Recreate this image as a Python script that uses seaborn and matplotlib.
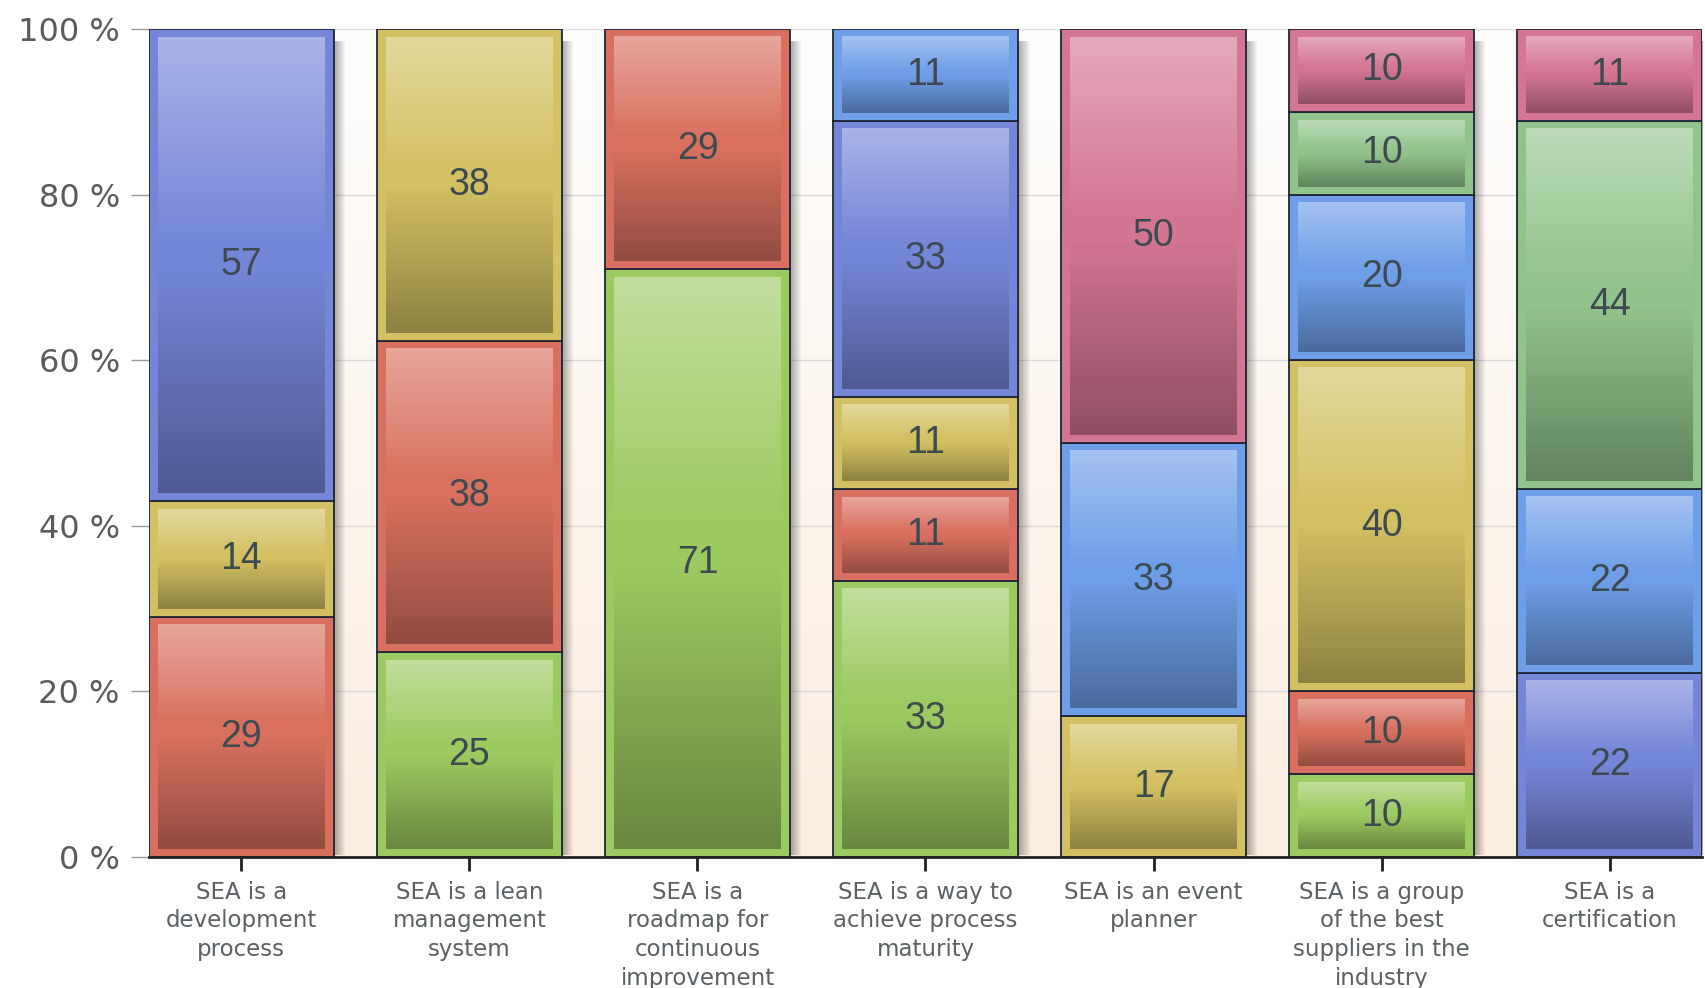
import numpy as np
import pandas as pd
import matplotlib
matplotlib.use("Agg")
import matplotlib.pyplot as plt
import seaborn as sns
from matplotlib.colors import to_rgb

# ---------------- data ----------------
categories = [
    "SEA is a development process",
    "SEA is a lean management system",
    "SEA is a roadmap for continuous improvement",
    "SEA is a way to achieve process maturity",
    "SEA is an event planner",
    "SEA is a group of the best suppliers in the industry",
    "SEA is a certification",
]
tick_labels = [
    "SEA is a\ndevelopment\nprocess",
    "SEA is a lean\nmanagement\nsystem",
    "SEA is a\nroadmap for\ncontinuous\nimprovement",
    "SEA is a way to\nachieve process\nmaturity",
    "SEA is an event\nplanner",
    "SEA is a group\nof the best\nsuppliers in the\nindustry",
    "SEA is a\ncertification",
]
# stacked from bottom to top
series_names = ["Lime", "Red", "Yellow", "Periwinkle", "Light blue", "Sage", "Pink"]
lime       = [0, 25, 71, 33, 0, 10, 0]
red        = [29, 38, 29, 11, 0, 10, 0]
yellow     = [14, 38, 0, 11, 17, 40, 0]
periwinkle = [57, 0, 0, 33, 0, 0, 22]
lightblue  = [0, 0, 0, 11, 33, 20, 22]
sage       = [0, 0, 0, 0, 0, 10, 44]
pink       = [0, 0, 0, 0, 50, 10, 11]
series_values = [lime, red, yellow, periwinkle, lightblue, sage, pink]
series_colors = ["#9bca60", "#d9705f", "#d3c062", "#7486d8", "#6f9ee8", "#91c48b", "#d47594"]
y_ticks = [0, 20, 40, 60, 80, 100]

# ---------------- build table ----------------
rows = []
for ci, cat in enumerate(categories):
    total = sum(s[ci] for s in series_values)
    base = 0.0
    for name, vals in zip(series_names, series_values):
        v = vals[ci]
        if v > 0:
            pct = v * 100.0 / total
            rows.append(dict(category=cat, cidx=ci, series=name, value=v, pct=pct, base=base))
            base += pct
df = pd.DataFrame(rows)

# ---------------- figure ----------------
sns.set_theme(style="white")
plt.rcParams["font.family"] = ["DejaVu Sans"]

W, H = 1705, 988
fig = plt.figure(figsize=(W / 100, H / 100), dpi=100)
ax_l, ax_b, ax_w, ax_h = 149, 131, 1553, 828
ax = fig.add_axes([ax_l / W, ax_b / H, ax_w / W, ax_h / H])

bar_w = 0.81
xlim = (-bar_w / 2, len(categories) - 1 + bar_w / 2)

# background gradient (white at top -> cream at bottom)
n = 256
top_c = np.array(to_rgb("#ffffff"))
bot_c = np.array(to_rgb("#fbeddf"))
t = np.linspace(0, 1, n)[:, None]
bg = (top_c * (1 - t) + bot_c * t)[:, None, :]
ax.imshow(bg, extent=(0, 1, 0, 1), transform=ax.transAxes, aspect="auto",
          origin="upper", zorder=-2, interpolation="bilinear")

# bars
for name, color in zip(series_names, series_colors):
    sub = df[df.series == name].sort_values("cidx")
    if sub.empty:
        continue
    sns.barplot(data=sub, x="category", y="pct", order=categories,
                bottom=sub["base"].to_numpy(), color=color, saturation=1,
                width=bar_w, errorbar=None, edgecolor="#1d2535", linewidth=1.3,
                ax=ax, zorder=2)

px_x = ax_w / (xlim[1] - xlim[0])
px_y = ax_h / 100.0

# glossy gradient inside each segment
tt = np.linspace(0, 1, n)
grad = np.zeros((n, 1, 4))
wa = np.clip(0.38 * (1 - tt / 0.45), 0, None)
ba = np.clip(0.33 * (tt - 0.5) / 0.5, 0, None)
grad[:, 0, :3] = np.where(wa > 0, 1.0, 0.0)[:, None]
grad[:, 0, 3] = np.maximum(wa, ba)

patches = [p for p in ax.patches if p.get_height() > 0]
for p in patches:
    x0, y0 = p.get_x(), p.get_y()
    x1, y1 = x0 + p.get_width(), y0 + p.get_height()
    dx = 9 / px_x
    dy = 8 / px_y
    ax.imshow(grad, extent=(x0 + dx, x1 - dx, y0 + dy, y1 - dy), aspect="auto",
              origin="upper", zorder=2.5, interpolation="bilinear")

# shadow to the right of each bar
sh = np.zeros((1, 64, 4))
sh[0, :, 3] = np.linspace(0.35, 0.0, 64)
for ci in range(len(categories)):
    xr = ci + bar_w / 2
    ax.imshow(sh, extent=(xr, xr + 12 / px_x, 0.3, 98.5), aspect="auto",
              origin="upper", zorder=1.5, interpolation="bilinear")

# value labels
for _, r in df.iterrows():
    ax.text(r.cidx, r.base + r.pct / 2, f"{int(r.value)}", ha="center", va="center",
            fontsize=27, color="#3c4a4f", family=["Liberation Sans", "DejaVu Sans"],
            zorder=4)

# axes styling
ax.set_xlim(*xlim)
ax.set_ylim(0, 100)
ax.set_xticks(range(len(categories)))
ax.set_xticklabels(tick_labels, fontsize=16.5, color="#5a6064", linespacing=1.32)
ax.set_yticks(y_ticks)
ax.set_yticklabels([f"{v} %" for v in y_ticks], fontsize=23, color="#5a5a5a")
ax.tick_params(axis="x", bottom=True, length=10, width=2, color="#222222", pad=7)
ax.tick_params(axis="y", left=True, length=13, width=1, color="#999999", pad=8)
ax.set_xlabel("")
ax.set_ylabel("")
ax.grid(axis="y", color="#dadada", lw=1)
ax.grid(axis="x", visible=False)
ax.set_axisbelow(True)
for s in ["left", "top", "right"]:
    ax.spines[s].set_visible(False)
ax.spines["bottom"].set_color("#222222")
ax.spines["bottom"].set_linewidth(2)
ax.spines["bottom"].set_zorder(5)

fig.savefig("out.png", dpi=100)
